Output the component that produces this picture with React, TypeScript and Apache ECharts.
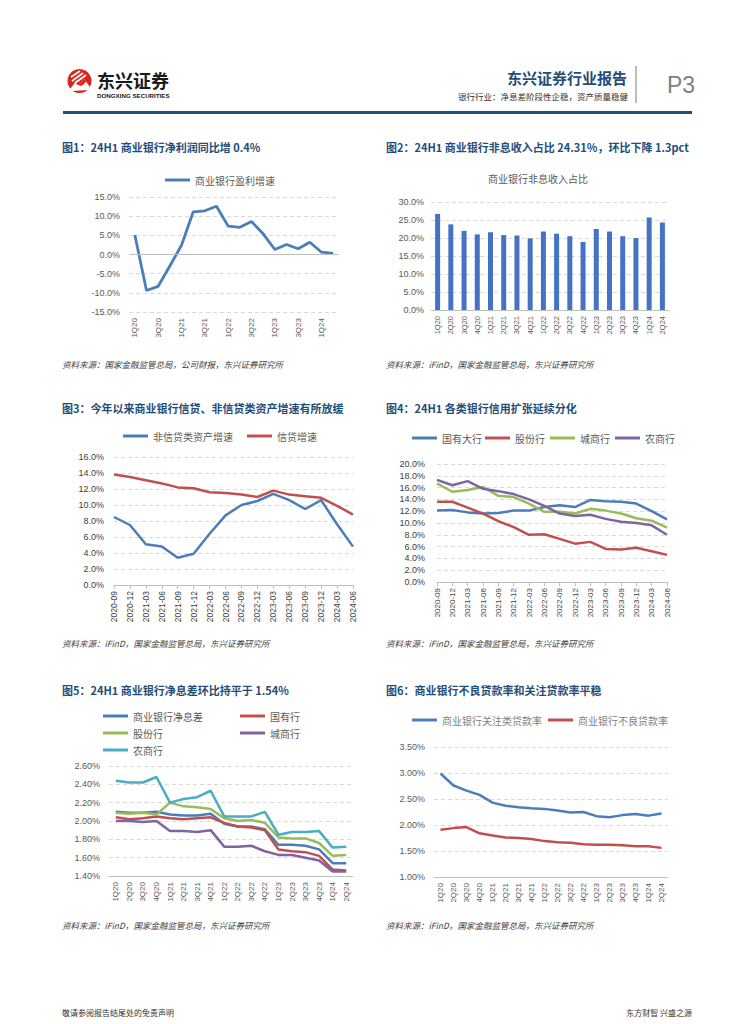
import React, { useEffect, useRef } from "react";
import * as echarts from "echarts";

// ---------------- data ----------------
const quarters = ["1Q20", "2Q20", "3Q20", "4Q20", "1Q21", "2Q21", "3Q21", "4Q21", "1Q22", "2Q22", "3Q22", "4Q22", "1Q23", "2Q23", "3Q23", "4Q23", "1Q24", "2Q24"];
const profitGrowth = [5.1, -9.4, -8.3, -3.0, 2.4, 11.1, 11.4, 12.6, 7.4, 7.1, 8.6, 5.4, 1.3, 2.6, 1.5, 3.2, 0.6, 0.3];
const nonInterestShare = [26.7, 23.8, 22.0, 21.0, 21.6, 20.8, 20.7, 19.9, 21.8, 21.2, 20.5, 18.9, 22.5, 21.8, 20.5, 20.0, 25.7, 24.3];

const months = ["2020-09", "2020-12", "2021-03", "2021-06", "2021-09", "2021-12", "2022-03", "2022-06", "2022-09", "2022-12", "2023-03", "2023-06", "2023-09", "2023-12", "2024-03", "2024-06"];
const nonCreditGrowth = [8.5, 7.5, 5.1, 4.8, 3.4, 3.9, 6.4, 8.7, 10.0, 10.5, 11.4, 10.6, 9.5, 10.6, 7.6, 4.8];
const creditGrowth = [13.8, 13.5, 13.1, 12.7, 12.2, 12.1, 11.6, 11.5, 11.3, 11.0, 11.8, 11.3, 11.1, 10.9, 9.9, 8.8];

const bigBankCredit = [12.1, 12.2, 11.8, 11.6, 11.7, 12.1, 12.1, 12.7, 13.0, 12.7, 13.9, 13.7, 13.6, 13.3, 12.0, 10.6];
const jointBankCredit = [13.6, 13.6, 12.6, 11.6, 10.3, 9.3, 8.0, 8.1, 7.3, 6.5, 6.8, 5.6, 5.5, 5.8, 5.2, 4.6];
const cityBankCredit = [16.7, 15.3, 15.6, 16.1, 14.6, 14.4, 13.3, 11.9, 11.9, 11.6, 12.4, 12.1, 11.6, 10.8, 10.4, 9.2];
const ruralBankCredit = [17.3, 16.4, 17.1, 15.8, 15.4, 14.9, 14.0, 12.9, 11.6, 11.2, 11.4, 10.7, 10.2, 10.0, 9.6, 8.0];

const nimAll = [2.10, 2.09, 2.09, 2.10, 2.07, 2.06, 2.06, 2.08, 1.97, 1.94, 1.94, 1.91, 1.74, 1.74, 1.73, 1.69, 1.54, 1.54];
const nimState = [2.04, 2.02, 2.03, 2.05, 2.03, 2.02, 2.03, 2.04, 1.98, 1.94, 1.93, 1.90, 1.69, 1.67, 1.66, 1.62, 1.47, 1.46];
const nimJoint = [2.09, 2.08, 2.09, 2.07, 2.20, 2.16, 2.15, 2.13, 2.03, 2.00, 2.01, 1.98, 1.82, 1.81, 1.81, 1.76, 1.62, 1.63];
const nimCity = [2.00, 2.00, 1.99, 2.00, 1.89, 1.89, 1.88, 1.90, 1.72, 1.72, 1.73, 1.67, 1.63, 1.63, 1.60, 1.57, 1.45, 1.45];
const nimRural = [2.44, 2.42, 2.42, 2.48, 2.20, 2.24, 2.26, 2.33, 2.05, 2.05, 2.05, 2.10, 1.85, 1.88, 1.88, 1.89, 1.71, 1.72];

const specialMentionRatio = [2.99, 2.76, 2.66, 2.58, 2.43, 2.37, 2.34, 2.32, 2.31, 2.28, 2.24, 2.25, 2.17, 2.15, 2.19, 2.21, 2.18, 2.22];
const nplRatio = [1.91, 1.94, 1.96, 1.84, 1.80, 1.76, 1.75, 1.73, 1.69, 1.67, 1.66, 1.63, 1.62, 1.62, 1.61, 1.59, 1.59, 1.56];

// ---------------- style helpers ----------------
const FONT = "'Liberation Sans', 'Noto Sans CJK SC', sans-serif";
const CJK = "'Noto Sans CJK SC', sans-serif";
const NAVY = "#1F4E79";
const C_BLUE = "#4A7EBB";
const C_RED = "#C0504D";
const C_GREEN = "#9BBB59";
const C_PURPLE = "#8064A2";
const C_TEAL = "#4BACC6";

const splitDashed = { show: true, lineStyle: { color: "#d9d9d9", type: [4, 3], width: 1 } };

function txt(text: string, x: number, y: number, o: any = {}) {
  return {
    type: "text",
    x,
    y,
    silent: true,
    style: {
      text,
      fill: o.fill || "#333",
      fontSize: o.fontSize || 9,
      fontWeight: o.fontWeight || "normal",
      fontStyle: o.fontStyle || "normal",
      fontFamily: o.fontFamily || CJK,
      align: o.align || "left",
      verticalAlign: "middle",
      lineHeight: o.lineHeight,
    },
  };
}

function title(text: string, x: number, y: number) {
  return txt(text, x, y, { fill: NAVY, fontSize: 11, fontWeight: "bold" });
}

function source(text: string, x: number, y: number) {
  return txt(text, x, y, { fill: "#404040", fontSize: 8.5, fontStyle: "italic" });
}

function legendItem(name: string, left: number, cy: number, color = "#595959") {
  return {
    left,
    top: cy - 7,
    padding: 0,
    data: [name],
    icon: "rect",
    itemWidth: 25,
    itemHeight: 3,
    selectedMode: false,
    textStyle: { fontSize: 10, color, fontFamily: CJK },
  };
}

function yAx(min: number, max: number, interval: number, dec: number, margin: number, color = "#595959") {
  return {
    type: "value",
    min,
    max,
    interval,
    axisLine: { show: false },
    axisTick: { show: false },
    splitLine: splitDashed,
    axisLabel: {
      formatter: (v: number) => v.toFixed(dec) + "%",
      color,
      fontSize: 9,
      fontFamily: FONT,
      margin,
    },
  };
}

function xAx(data: string[], boundaryGap: boolean, fontSize: number, o: any = {}) {
  return {
    type: "category",
    data,
    boundaryGap,
    axisLine: { show: o.line !== false, onZero: false, lineStyle: { color: "#bfbfbf", width: 1 } },
    axisTick: { show: !!o.tick, length: 4, alignWithLabel: true, lineStyle: { color: "#bfbfbf" } },
    axisLabel: {
      interval: o.interval ?? 0,
      rotate: 90,
      fontSize,
      color: o.color || "#595959",
      margin: o.margin ?? 6,
      fontFamily: FONT,
    },
  };
}

function lineSeries(name: string, data: number[], color: string, width = 2.5) {
  return {
    type: "line",
    name,
    data,
    symbol: "none",
    lineStyle: { width, color },
    itemStyle: { color },
  };
}

const SRC = "资料来源：iFinD，国家金融监管总局，东兴证券研究所";

// ---------------- options ----------------
const headerOption = {
  animation: false,
  graphic: [
    { type: "circle", shape: { cx: 79.5, cy: 81, r: 12 }, style: { fill: "#D9251D" }, silent: true },
    { type: "polygon", shape: { points: [[70, 89], [77, 80], [80.5, 83.5], [84, 79], [90, 87], [88, 90], [72, 91]] }, style: { fill: "#ffffff" }, silent: true },
    { type: "polygon", shape: { points: [[77, 80], [80.5, 83.5], [84, 79], [86, 81.5], [84, 84], [81, 86], [76, 84]] }, style: { fill: "#D9251D" }, silent: true },
    { type: "line", shape: { x1: 71, y1: 77, x2: 80, y2: 71 }, style: { stroke: "#fff", lineWidth: 1.6 }, silent: true },
    { type: "line", shape: { x1: 72, y1: 81, x2: 83, y2: 73 }, style: { stroke: "#fff", lineWidth: 1.6 }, silent: true },
    { type: "line", shape: { x1: 75, y1: 83, x2: 86, y2: 75 }, style: { stroke: "#fff", lineWidth: 1.6 }, silent: true },
    txt("东兴证券", 97, 79.5, { fontSize: 18, fontWeight: "bold", fill: "#1a1a1a", lineHeight: 18 }),
    txt("DONGXING SECURITIES", 97, 95, { fontSize: 6.2, fontWeight: "bold", fill: "#1a1a1a", fontFamily: FONT, lineHeight: 7 }),
    txt("东兴证券行业报告", 627, 77, { fontSize: 15, fontWeight: "bold", fill: NAVY, align: "right" }),
    txt("银行行业：净息差阶段性企稳，资产质量稳健", 628, 96, { fontSize: 8.5, fill: "#333", align: "right" }),
    { type: "line", shape: { x1: 636, y1: 66, x2: 636, y2: 103 }, style: { stroke: "#a6a6a6", lineWidth: 1.5 }, silent: true },
    txt("P3", 667, 85, { fontSize: 23, fill: "#7f7f7f", fontFamily: FONT }),
    { type: "line", shape: { x1: 63, y1: 112.5, x2: 692, y2: 112.5 }, style: { stroke: NAVY, lineWidth: 3 }, silent: true },
    txt("敬请参阅报告结尾处的免责声明", 62, 1012, { fontSize: 8, fill: "#333" }),
    txt("东方财智 兴盛之源", 692, 1012, { fontSize: 8, fill: "#333", align: "right" }),
  ],
};

const chart1Option = {
  animation: false,
  grid: { left: 129, top: 197, width: 210, height: 115 },
  xAxis: xAx(quarters, true, 8, { line: false, interval: 1 }),
  yAxis: yAx(-15, 15, 5, 1, 9),
  legend: [legendItem("商业银行盈利增速", 165, 182)],
  series: [
    {
      ...lineSeries("商业银行盈利增速", profitGrowth, C_BLUE, 2.8),
      markLine: {
        silent: true,
        symbol: "none",
        label: { show: false },
        lineStyle: { color: "#bfbfbf", type: "solid", width: 1 },
        data: [{ yAxis: 0 }],
      },
    },
  ],
  graphic: [
    title("图1：24H1 商业银行净利润同比增 0.4%", 62, 147),
    source("资料来源：国家金融监管总局，公司财报，东兴证券研究所", 62, 364),
  ],
};

const chart2Option = {
  animation: false,
  grid: { left: 431, top: 202, width: 238, height: 108 },
  xAxis: xAx(quarters, true, 7.5, {}),
  yAxis: yAx(0, 30, 5, 1, 7),
  series: [
    {
      type: "bar",
      name: "商业银行非息收入占比",
      data: nonInterestShare,
      barWidth: 5,
      itemStyle: { color: "#4472C4" },
    },
  ],
  graphic: [
    title("图2：24H1 商业银行非息收入占比 24.31%，环比下降 1.3pct", 386, 147),
    txt("商业银行非息收入占比", 538, 178, { fontSize: 10, fill: "#595959", align: "center" }),
    source(SRC, 386, 364),
  ],
};

const chart3Option = {
  animation: false,
  grid: { left: 114, top: 457, width: 239, height: 128 },
  xAxis: xAx(months, false, 8.5, { tick: true, color: "#404040" }),
  yAxis: yAx(0, 16, 2, 1, 10, "#404040"),
  legend: [legendItem("非信贷类资产增速", 123, 438), legendItem("信贷增速", 247, 438)],
  series: [
    lineSeries("非信贷类资产增速", nonCreditGrowth, C_BLUE),
    lineSeries("信贷增速", creditGrowth, C_RED),
  ],
  graphic: [
    title("图3：今年以来商业银行信贷、非信贷类资产增速有所放缓", 62, 408),
    source(SRC, 62, 643),
  ],
};

const chart4Option = {
  animation: false,
  grid: { left: 437, top: 464, width: 230, height: 118 },
  xAxis: xAx(months, false, 8, { tick: true, color: "#404040" }),
  yAxis: yAx(0, 20, 2, 1, 12, "#404040"),
  legend: [
    legendItem("国有大行", 412, 440),
    legendItem("股份行", 485, 440),
    legendItem("城商行", 550, 440),
    legendItem("农商行", 615, 440),
  ],
  series: [
    lineSeries("国有大行", bigBankCredit, C_BLUE),
    lineSeries("股份行", jointBankCredit, C_RED),
    lineSeries("城商行", cityBankCredit, C_GREEN),
    lineSeries("农商行", ruralBankCredit, C_PURPLE),
  ],
  graphic: [
    title("图4：24H1 各类银行信用扩张延续分化", 386, 408),
    source(SRC, 386, 643),
  ],
};

const chart5Option = {
  animation: false,
  grid: { left: 109, top: 766, width: 244, height: 110 },
  xAxis: xAx(quarters, true, 8, {}),
  yAxis: yAx(1.4, 2.6, 0.2, 2, 9),
  legend: [
    legendItem("商业银行净息差", 103, 718),
    legendItem("国有行", 240, 718),
    legendItem("股份行", 103, 735),
    legendItem("城商行", 240, 735),
    legendItem("农商行", 103, 752),
  ],
  series: [
    lineSeries("商业银行净息差", nimAll, C_BLUE),
    lineSeries("国有行", nimState, C_RED),
    lineSeries("股份行", nimJoint, C_GREEN),
    lineSeries("城商行", nimCity, C_PURPLE),
    lineSeries("农商行", nimRural, C_TEAL),
  ],
  graphic: [
    title("图5：24H1 商业银行净息差环比持平于 1.54%", 62, 690),
    source(SRC, 62, 925),
  ],
};

const chart6Option = {
  animation: false,
  grid: { left: 434, top: 747, width: 234, height: 130 },
  xAxis: xAx(quarters, true, 8, {}),
  yAxis: yAx(1.0, 3.5, 0.5, 2, 9),
  legend: [
    legendItem("商业银行关注类贷款率", 412, 722, "#7f7f7f"),
    legendItem("商业银行不良贷款率", 548, 722, "#7f7f7f"),
  ],
  series: [
    lineSeries("商业银行关注类贷款率", specialMentionRatio, C_BLUE),
    lineSeries("商业银行不良贷款率", nplRatio, C_RED),
  ],
  graphic: [
    title("图6：商业银行不良贷款率和关注贷款率平稳", 386, 690),
    source(SRC, 386, 925),
  ],
};

// ---------------- components ----------------
function Layer({ option }: { option: any }) {
  const ref = useRef<HTMLDivElement>(null);
  useEffect(() => {
    if (!ref.current) return;
    const chart = echarts.init(ref.current, undefined, { renderer: "svg", width: 755, height: 1024 });
    chart.setOption(option);
    return () => chart.dispose();
  }, [option]);
  return (
    <div
      ref={ref}
      style={{ position: "absolute", left: 0, top: 0, width: 755, height: 1024, pointerEvents: "none" }}
    />
  );
}

export default function App() {
  const options = [headerOption, chart1Option, chart2Option, chart3Option, chart4Option, chart5Option, chart6Option];
  return (
    <div style={{ position: "absolute", left: 0, top: 0, width: 755, height: 1024, background: "#ffffff", overflow: "hidden" }}>
      {options.map((o, i) => (
        <Layer key={i} option={o} />
      ))}
    </div>
  );
}
